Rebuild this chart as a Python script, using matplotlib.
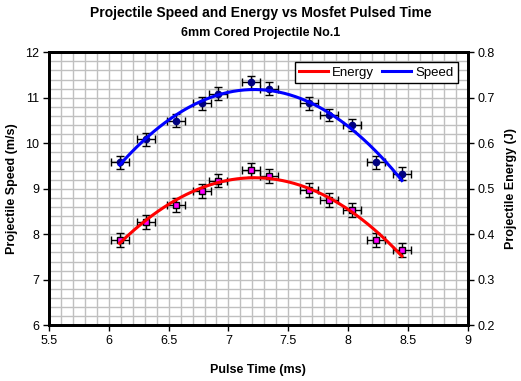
import numpy as np
import matplotlib
matplotlib.use("Agg")
import matplotlib.pyplot as plt
from matplotlib.ticker import MultipleLocator, FormatStrFormatter
from matplotlib.lines import Line2D

# Data
pulse_time = [6.09, 6.31, 6.56, 6.78, 6.91, 7.19, 7.34, 7.67, 7.84, 8.03, 8.23, 8.45]
speed = [9.58, 10.09, 10.50, 10.88, 11.09, 11.34, 11.20, 10.88, 10.62, 10.40, 9.58, 9.33]
energy = [0.387, 0.427, 0.464, 0.495, 0.518, 0.542, 0.528, 0.497, 0.475, 0.453, 0.388, 0.366]
time_err = 0.075
speed_err = 0.14
energy_err = 0.015
fit_order = 2

plt.rcParams['font.family'] = ['Liberation Sans', 'DejaVu Sans']

fig = plt.figure(figsize=(5.21, 3.81), dpi=100)
ax = fig.add_axes([49/521, 1-325.3/381, (467.7-49)/521, (325.3-52.3)/381])
ax2 = ax.twinx()

ax.set_xlim(5.5, 9)
ax.set_ylim(6, 12)
ax2.set_ylim(0.2, 0.8)

ax.xaxis.set_major_locator(MultipleLocator(0.5))
ax.xaxis.set_minor_locator(MultipleLocator(0.1))
ax.xaxis.set_major_formatter(FormatStrFormatter('%g'))
ax.yaxis.set_major_locator(MultipleLocator(1))
ax.yaxis.set_minor_locator(MultipleLocator(0.2))
ax2.yaxis.set_major_locator(MultipleLocator(0.1))
ax2.yaxis.set_major_formatter(FormatStrFormatter('%g'))

ax.grid(which='both', color='#c0c0c0', linewidth=1.0)
ax.set_axisbelow(True)

for a in (ax, ax2):
    for s in a.spines.values():
        s.set_linewidth(2.0)
        s.set_color('black')
    a.tick_params(which='major', length=4, width=1, labelsize=9, direction='out', pad=3)
    a.tick_params(which='minor', length=0)

x = np.array(pulse_time)
xs = np.linspace(x.min(), x.max(), 200)
cs = np.polyfit(x, speed, fit_order)
ce = np.polyfit(x, energy, fit_order)

# Speed (left axis)
ax.errorbar(pulse_time, speed, xerr=time_err, yerr=speed_err, fmt='o',
            color='black', ecolor='black', elinewidth=1, capsize=3, capthick=1,
            markerfacecolor='#000080', markeredgecolor='#000080', markersize=4.5, zorder=3)
ax.plot(xs, np.polyval(cs, xs), color='#0000ff', linewidth=2.2, zorder=4)

# Energy (right axis)
ax2.errorbar(pulse_time, energy, xerr=time_err, yerr=energy_err, fmt='s',
             color='black', ecolor='black', elinewidth=1, capsize=3, capthick=1,
             markerfacecolor='#ff00ff', markeredgecolor='black', markersize=5, zorder=3)
ax2.plot(xs, np.polyval(ce, xs), color='#ff0000', linewidth=2.2, zorder=4)

ax.set_xlabel('Pulse Time (ms)', fontsize=9, fontweight='bold', labelpad=12)
ax.set_ylabel('Projectile Speed (m/s)', fontsize=9, fontweight='bold', labelpad=5)
ax2.set_ylabel('Projectile Energy (J)', fontsize=9, fontweight='bold', labelpad=7)

fig.text(0.5, 1-13/381, 'Projectile Speed and Energy vs Mosfet Pulsed Time',
         ha='center', va='center', fontsize=10, fontweight='bold')
fig.text(0.5, 1-33/381, '6mm Cored Projectile No.1',
         ha='center', va='center', fontsize=9, fontweight='bold')

handles = [Line2D([], [], color='#ff0000', linewidth=2.2),
           Line2D([], [], color='#0000ff', linewidth=2.2)]
leg = ax2.legend(handles, ['Energy', 'Speed'], ncol=2, loc='upper right',
                 bbox_to_anchor=(458/521, 1-62/381), bbox_transform=fig.transFigure,
                 fontsize=9.5, frameon=True, fancybox=False, framealpha=1,
                 edgecolor='black', handlelength=2.2, handletextpad=0.3,
                 columnspacing=0.6, borderpad=0.35, borderaxespad=0)
leg.get_frame().set_linewidth(1.0)

fig.savefig('out.png', dpi=100)
